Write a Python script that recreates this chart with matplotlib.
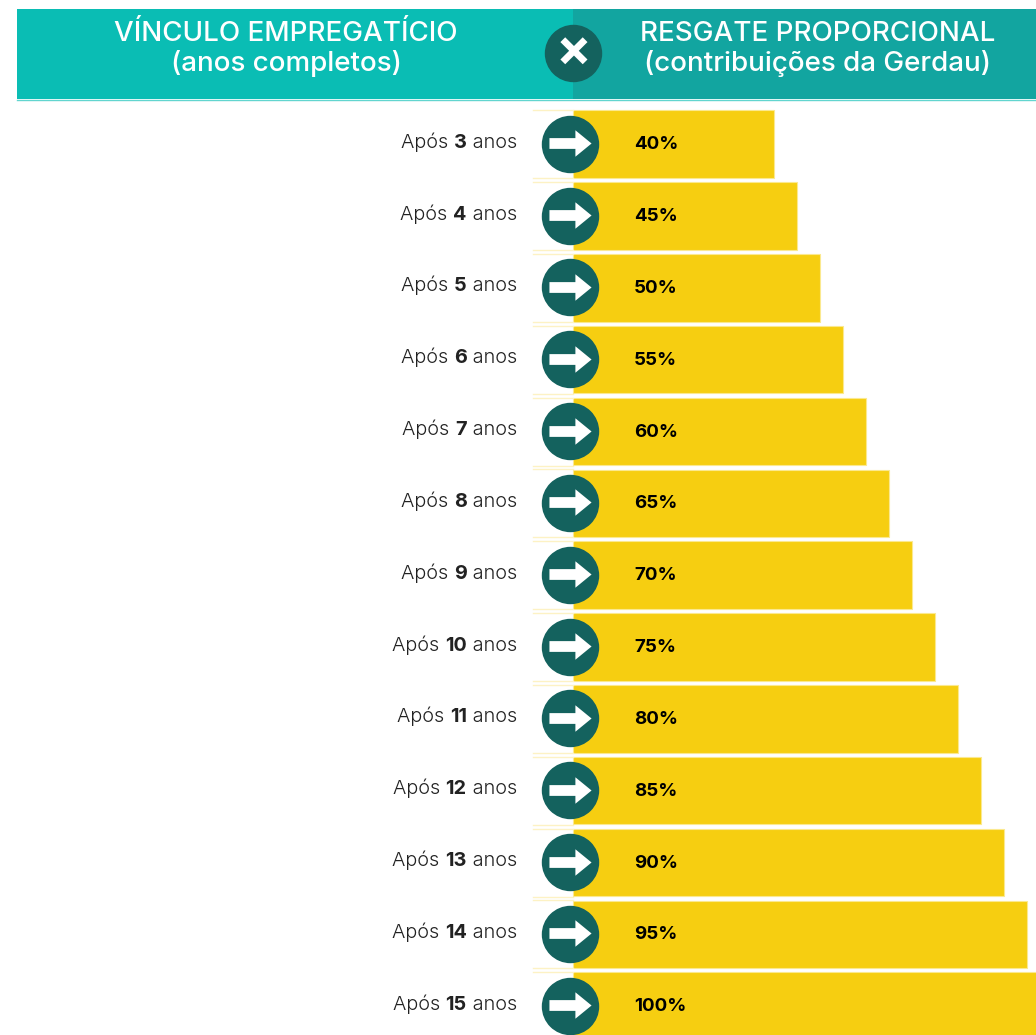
# Recreate the "resgate proporcional" table/bar chart
import matplotlib
matplotlib.use("Agg")
import matplotlib.pyplot as plt
from matplotlib.patches import Rectangle
from matplotlib.path import Path
import numpy as np

years = [3, 4, 5, 6, 7, 8, 9, 10, 11, 12, 13, 14, 15]
percents = [40, 45, 50, 55, 60, 65, 70, 75, 80, 85, 90, 95, 100]
header_left = ["VÍNCULO EMPREGATÍCIO", "(anos completos)"]
header_right = ["RESGATE PROPORCIONAL", "(contribuições da Gerdau)"]

W, H = 1036, 1035
TEAL_L = "#0abdb4"
TEAL_R = "#12a5a0"
DARK = "#14625e"
YELLOW = "#f6ce11"
PALE = "#fdf2c4"

plt.rcParams["font.family"] = ["Inter", "DejaVu Sans"]

fig = plt.figure(figsize=(W / 100, H / 100), dpi=100, facecolor="white")

# bars live in percent units; 0% sits at about x=590px, 1% is 4.6px
ax_bars = fig.add_axes([0, 0, 1, 1], zorder=1)
ax_bars.set_xlim(-590 / 4.6, (W - 590) / 4.6)
ax_bars.set_ylim((H - 144.2) / 71.83, -144.2 / 71.83)
ax_bars.axis("off")
rows = np.arange(len(years))
base = (573 - 590) / 4.6
ax_bars.barh(rows, np.array(percents) - base, left=base, height=67.5 / 71.83,
             color=YELLOW, edgecolor="#fbe98f", linewidth=0.8)

# everything else is laid out in pixels
ax = fig.add_axes([0, 0, 1, 1], zorder=2)
ax.set_xlim(0, W)
ax.set_ylim(H, 0)
ax.axis("off")
ax.patch.set_alpha(0)

ax.add_patch(Rectangle((17, 9), 556, 90, color=TEAL_L, lw=0))
ax.add_patch(Rectangle((573, 9), W - 573, 90, color=TEAL_R, lw=0))
ax.plot([17, W], [99.5, 99.5], color="#62d5cf", lw=1)

for cx, lines in ((286, header_left), (818, header_right)):
    for yy, line in zip((41, 71), lines):
        ax.text(cx, yy, line, color="white", fontsize=20, fontweight=500, ha="center",
                va="baseline")

ax.scatter([573], [53], s=1709, color=DARK, linewidths=0, zorder=4)
ax.text(573.5, 52, "×", color="white", fontsize=38, fontweight="bold", ha="center",
        va="center", zorder=5)

# arrow marker, pointing right
arrow = Path([(-21.5, -5.5), (5, -5.5), (5, -13.5), (21.5, 0), (5, 13.5), (5, 5.5),
              (-21.5, 5.5), (-21.5, -5.5)], closed=True)

fig.canvas.draw()
renderer = fig.canvas.get_renderer()
for i, (yr, pct) in enumerate(zip(years, percents)):
    yc = 144.2 + 71.83 * i

    ax.plot([533, 573], [yc - 34, yc - 34], color=PALE, lw=1, zorder=2)
    ax.plot([533, 573], [yc + 34, yc + 34], color=PALE, lw=1, zorder=2)

    ax.scatter([570], [yc - 0.5], s=1709, color=DARK, linewidths=0, zorder=4)
    ax.scatter([570], [yc - 1], s=920, marker=arrow, color="white", linewidths=0, zorder=5)

    # mixed weight label, built from the right edge
    x = 517
    for piece, weight in ((" anos", 300), (str(yr), "bold"), ("Após ", 300)):
        t = ax.text(x, yc + 3.5, piece.replace(" ", "\u00a0"), fontsize=14.3, fontweight=weight,
                    color="#222222", ha="right", va="baseline")
        x = ax.transData.inverted().transform(t.get_window_extent(renderer))[0, 0]

    ax.text(634, yc + 0.5, "%d%%" % pct, fontsize=13.5, fontweight="bold", color="black",
            ha="left", va="center", zorder=5)

fig.savefig("out.png", dpi=100)
